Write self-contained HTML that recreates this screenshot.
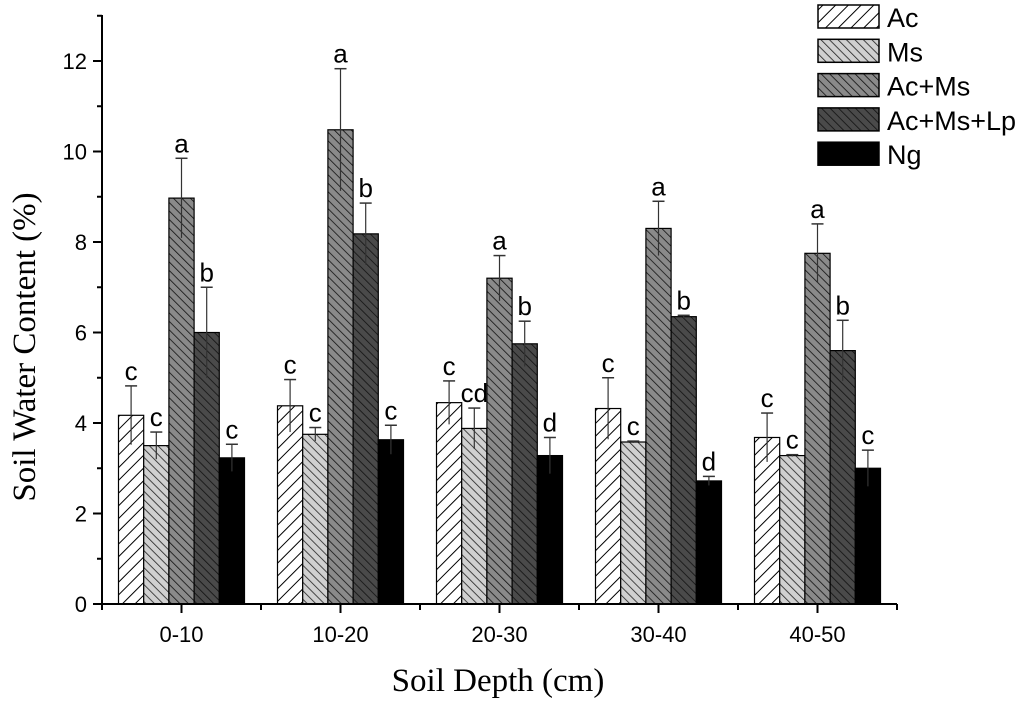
<!DOCTYPE html>
<html><head><meta charset="utf-8"><style>
body{margin:0;background:#fff}
</style></head><body>
<svg id="c" width="1024" height="701" xmlns="http://www.w3.org/2000/svg">
<defs>
<pattern id="pAc" patternUnits="userSpaceOnUse" width="9" height="9" patternTransform="rotate(45)"><rect width="9" height="9" fill="#fff"/><line x1="0" y1="0" x2="0" y2="9" stroke="#000" stroke-width="2"/></pattern>
<pattern id="pMs" patternUnits="userSpaceOnUse" width="6" height="6" patternTransform="rotate(-45)"><rect width="6" height="6" fill="#d0d0d0"/><line x1="0" y1="0" x2="0" y2="6" stroke="#222" stroke-width="1.6"/></pattern>
<pattern id="pAM" patternUnits="userSpaceOnUse" width="6" height="6" patternTransform="rotate(-45)"><rect width="6" height="6" fill="#8a8a8a"/><line x1="0" y1="0" x2="0" y2="6" stroke="#111" stroke-width="1.6"/></pattern>
<pattern id="pAML" patternUnits="userSpaceOnUse" width="6" height="6" patternTransform="rotate(-45)"><rect width="6" height="6" fill="#4a4a4a"/><line x1="0" y1="0" x2="0" y2="6" stroke="#111" stroke-width="1.6"/></pattern>
</defs>
<g id="plot"></g>
</svg>
<script>
const categories=["0-10","10-20","20-30","30-40","40-50"];
const seriesNames=["Ac","Ms","Ac+Ms","Ac+Ms+Lp","Ng"];
const acVals=[4.17,4.38,4.45,4.32,3.68];
const msVals=[3.5,3.75,3.88,3.58,3.28];
const amVals=[8.97,10.48,7.2,8.3,7.75];
const amlVals=[6.0,8.18,5.75,6.35,5.6];
const ngVals=[3.23,3.63,3.28,2.72,3.0];
const acErr=[0.65,0.58,0.48,0.68,0.54];
const msErr=[0.3,0.15,0.45,0.02,0.02];
const amErr=[0.88,1.35,0.5,0.6,0.65];
const amlErr=[1.0,0.68,0.5,0.03,0.67];
const ngErr=[0.3,0.32,0.4,0.1,0.4];
const acLet=["c","c","c","c","c"];
const msLet=["c","c","cd","c","c"];
const amLet=["a","a","a","a","a"];
const amlLet=["b","b","b","b","b"];
const ngLet=["c","c","d","d","c"];
const yTicks=[0,2,4,6,8,10,12];

const NS="http://www.w3.org/2000/svg";
const g=document.getElementById('plot');
function mk(t,a,st){const e=document.createElementNS(NS,t);for(const k in a)e.setAttribute(k,a[k]);if(st)e.setAttribute('style',st);g.appendChild(e);return e;}
const SANS="font-family:'Liberation Sans',sans-serif;";
const SERIF="font-family:'Liberation Serif',serif;";
const x0=102,y0=604,yTop=15,grpW=159,barW=25.2;
const y=v=>y0-v*(y0-61)/12;
const fills=["url(#pAc)","url(#pMs)","url(#pAM)","url(#pAML)","#000"];
const vals=[acVals,msVals,amVals,amlVals,ngVals];
const errs=[acErr,msErr,amErr,amlErr,ngErr];
const lets=[acLet,msLet,amLet,amlLet,ngLet];

categories.forEach((c,i)=>{
  const cx=x0+grpW*(i+0.5);
  vals.forEach((arr,s)=>{
    const bx=cx-2.5*barW+s*barW,v=arr[i],e=errs[s][i];
    let r=mk('rect',{x:bx,y:y(v),width:barW,height:y0-y(v),fill:fills[s],stroke:'#000','stroke-width':1.2});
    
    
    const m=bx+barW/2;
    let l=mk('line',{x1:m,x2:m,y1:y(v-e),y2:y(v+e),stroke:'#333','stroke-width':1.2});
    
    
    mk('line',{x1:m-6,x2:m+6,y1:y(v+e),y2:y(v+e),stroke:'#333','stroke-width':1.5});
    let t=mk('text',{x:m,y:y(v+e)-6,'text-anchor':'middle'},SANS+'font-size:26px;');
    t.textContent=lets[s][i];
    
    
  });
  mk('line',{x1:cx,x2:cx,y1:y0,y2:y0+9,stroke:'#000','stroke-width':2});
  let tl=mk('text',{x:cx,y:y0+38,'text-anchor':'middle'},SANS+'font-size:22px;');
  tl.textContent=c;
  
  
});
for(let i=0;i<=5;i++)mk('line',{x1:x0+grpW*i,x2:x0+grpW*i,y1:y0,y2:y0+6,stroke:'#000','stroke-width':2});
mk('line',{x1:x0,x2:x0+grpW*5,y1:y0,y2:y0,stroke:'#000','stroke-width':2});
mk('line',{x1:x0,x2:x0,y1:yTop,y2:y0,stroke:'#000','stroke-width':2});
for(let v=1;v<=13;v+=2)mk('line',{x1:x0-5,x2:x0,y1:y(v),y2:y(v),stroke:'#000','stroke-width':2});
yTicks.forEach(v=>{
  mk('line',{x1:x0-9,x2:x0,y1:y(v),y2:y(v),stroke:'#000','stroke-width':2});
  let t=mk('text',{x:x0-15,y:y(v)+8},SANS+'font-size:22px;text-anchor:end;');
  t.textContent=v;
  
  
});
let xt=mk('text',{x:498,y:691,'text-anchor':'middle'},SERIF+'font-size:33px;');
xt.textContent='Soil Depth (cm)';


let yt=mk('text',{x:0,y:0,'text-anchor':'middle',transform:'translate(35,347) rotate(-90)'},SERIF+'font-size:33px;');
yt.textContent='Soil Water Content (%)';


seriesNames.forEach((n,s)=>{
  const ly=5+s*34.3;
  let r=mk('rect',{x:818,y:ly,width:61,height:23,fill:fills[s],stroke:'#000','stroke-width':1.5});
  
  
  let t=mk('text',{x:887,y:ly+22},SANS+'font-size:27px;');
  t.textContent=n;
  
  
});
</script>
</body></html>
